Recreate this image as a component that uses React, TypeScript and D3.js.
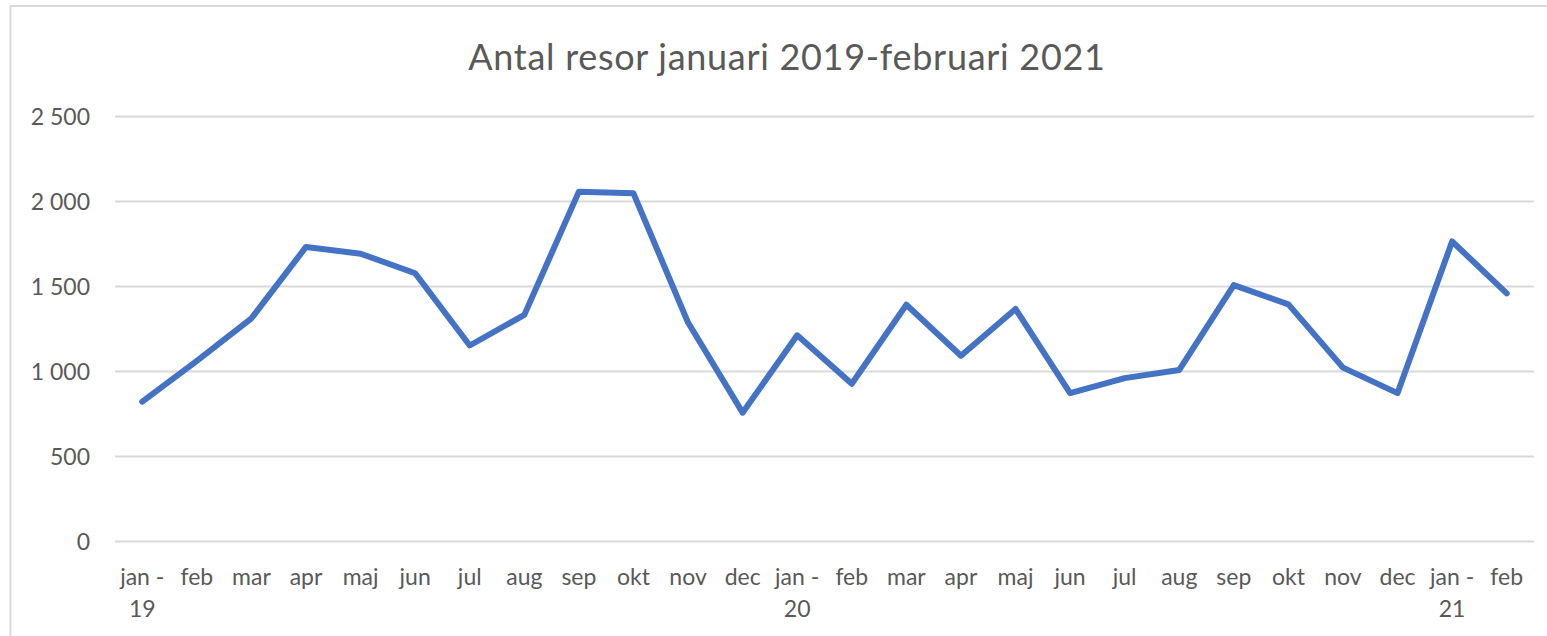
import * as d3 from "d3";
import { useEffect, useRef } from "react";

// data
const months = [
  "jan - 19", "feb", "mar", "apr", "maj", "jun", "jul", "aug", "sep", "okt", "nov", "dec",
  "jan - 20", "feb", "mar", "apr", "maj", "jun", "jul", "aug", "sep", "okt", "nov", "dec",
  "jan - 21", "feb",
];
const trips = [
  820, 1060, 1310, 1730, 1690, 1575, 1150, 1330, 2055, 2045, 1285, 755,
  1210, 925, 1390, 1090, 1365, 870, 958, 1006, 1505, 1392, 1020, 870,
  1762, 1457,
];
const yTicks = [0, 500, 1000, 1500, 2000, 2500];
const title = "Antal resor januari 2019-februari 2021";

const FONT = "Lato, 'Open Sans', sans-serif";
const TEXT = "#595959";
const GRID = "#d9d9d9";
const LINE = "#4472c4";

export default function App() {
  const ref = useRef<SVGSVGElement | null>(null);

  useEffect(() => {
    const W = 1547, H = 636;
    const margin = { top: 116, right: 13, bottom: 95, left: 115 };
    const width = W - margin.left - margin.right;
    const height = H - margin.top - margin.bottom;

    const root = d3.select(ref.current);
    root.selectAll("*").remove();

    // chart frame (only top and left edges fall inside the picture)
    root.append("rect")
      .attr("x", 10.5).attr("y", 6)
      .attr("width", 1560).attr("height", 660)
      .attr("fill", "#fff")
      .attr("stroke", GRID)
      .attr("stroke-width", 2);

    root.append("text")
      .attr("x", 787)
      .attr("y", 70)
      .attr("text-anchor", "middle")
      .attr("font-family", FONT)
      .attr("font-size", 36)
      .attr("letter-spacing", 0.7)
      .attr("fill", TEXT)
      .text(title);

    const svg = root.append("g")
      .attr("transform", `translate(${margin.left},${margin.top})`);

    const x = d3.scaleBand<number>()
      .domain(d3.range(months.length))
      .range([0, width])
      .padding(0);

    const y = d3.scaleLinear()
      .domain([0, 2500])
      .range([height, 0]);

    // y axis with gridlines
    const yAxis = svg.append("g")
      .call(
        d3.axisLeft(y)
          .tickValues(yTicks)
          .tickSize(-width)
          .tickPadding(25)
          .tickFormat((d) => d3.format(",")(d as number).replace(/,/g, " "))
      );
    yAxis.select(".domain").remove();
    yAxis.selectAll(".tick line").attr("stroke", GRID).attr("stroke-width", 2);
    yAxis.selectAll(".tick text")
      .attr("font-family", FONT)
      .attr("font-size", 23)
      .attr("fill", TEXT)
      .attr("dy", "0.36em");

    // category labels, wrapped like Excel does ("jan -" / "19")
    const xl = svg.append("g").attr("transform", `translate(0,${height})`);
    months.forEach((m, i) => {
      const cx = x(i)! + x.bandwidth() / 2;
      const parts = m.split(" - ");
      const t = xl.append("text")
        .attr("x", cx)
        .attr("y", 44)
        .attr("text-anchor", "middle")
        .attr("font-family", FONT)
        .attr("font-size", 23)
        .attr("fill", TEXT);
      if (parts.length > 1) {
        t.append("tspan").attr("x", cx).text(parts[0] + " -");
        t.append("tspan").attr("x", cx).attr("dy", 32).text(parts[1]);
      } else {
        t.text(m);
      }
    });

    const line = d3.line<number>()
      .x((_, i) => x(i)! + x.bandwidth() / 2)
      .y((d) => y(d));

    svg.append("path")
      .datum(trips)
      .attr("fill", "none")
      .attr("stroke", LINE)
      .attr("stroke-width", 6)
      .attr("stroke-linejoin", "round")
      .attr("stroke-linecap", "round")
      .attr("d", line);
  }, []);

  return (
    <svg
      ref={ref}
      width={1547}
      height={636}
      style={{ position: "absolute", left: 0, top: 0, display: "block", background: "#fff" }}
    />
  );
}
